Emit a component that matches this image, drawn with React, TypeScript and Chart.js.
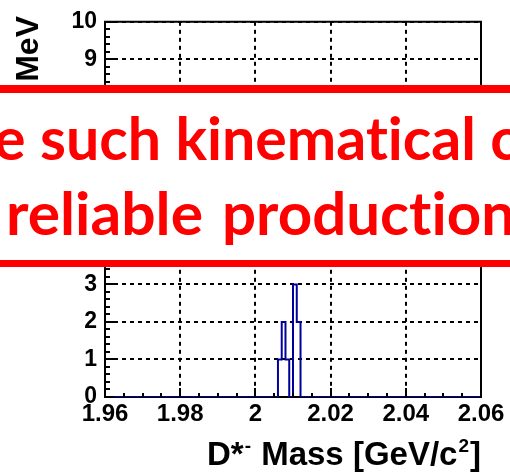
import { useEffect, useRef } from "react";
import { Chart, registerables } from "chart.js";

Chart.register(...registerables);

// D*- candidate invariant mass, 1 MeV bins between 1.96 and 2.06 GeV/c^2
const massMin = 1.96;
const massMax = 2.06;
const binLowEdges = [2.006, 2.007, 2.008, 2.009, 2.01, 2.011, 2.012];
const binCounts = [1, 2, 1, 0, 3, 2, 0];

const xTickValues = [1.96, 1.98, 2.0, 2.02, 2.04, 2.06];
const xTickLabels = ["1.96", "1.98", "2", "2.02", "2.04", "2.06"];
const yTickValues = [0, 1, 2, 3, 4, 5, 6, 7, 8, 9, 10];
const yTickLabels = ["0", "1", "2", "3", "4", "5", "6", "7", "8", "9", "10"];

const yAxisTitle = "Events / 1 MeV";
// [text, isSuperscript]
const xAxisTitleParts: [string, boolean][] = [
  ["D*", false],
  ["-", true],
  [" Mass [GeV/c", false],
  ["2", true],
  ["]", false],
];
const bannerLine1 = "e such kinematical c";
const bannerLine2Words = ["reliable", "production"];

const HIST_BLUE = "#00009a";
const BANNER_RED = "#ff0000";
const AXIS_FONT = "'Liberation Sans', Arial, Helvetica, sans-serif";
const BANNER_FONT = "Lato, 'Open Sans', sans-serif";

const X_MINOR_STEP = 0.005;
const Y_MINOR_STEP = 0.2;

// histogram outline: each point starts a bin that keeps its count up to the next edge
function stepPoints() {
  const pts = [{ x: massMin, y: 0 }];
  binLowEdges.forEach((e, i) => pts.push({ x: e, y: binCounts[i] }));
  pts.push({ x: massMax, y: 0 });
  return pts;
}

// draw text horizontally squeezed/stretched so it spans [x0, x1]
function fitText(ctx: CanvasRenderingContext2D, text: string, x0: number, x1: number, baseline: number) {
  const s = (x1 - x0) / ctx.measureText(text).width;
  ctx.save();
  ctx.translate(x0, baseline);
  ctx.scale(s, 1);
  ctx.fillText(text, 0, 0);
  ctx.restore();
}

const rootFramePlugin = {
  id: "rootFrame",
  afterDatasetsDraw(chart: any) {
    const { ctx, chartArea: a } = chart;
    const xs = chart.scales.x;
    const ys = chart.scales.y;
    ctx.save();
    ctx.setLineDash([]);
    ctx.strokeStyle = "#000";
    ctx.lineWidth = 2;
    ctx.beginPath();
    ctx.moveTo(a.left, a.bottom);
    ctx.lineTo(a.left, a.top);
    ctx.lineTo(a.right, a.top);
    ctx.lineTo(a.right, a.bottom);
    ctx.stroke();

    // inward ticks on the left axis
    const nY = Math.round((ys.max - ys.min) / Y_MINOR_STEP);
    for (let k = 0; k <= nY; k++) {
      const py = Math.round(ys.getPixelForValue(ys.min + k * Y_MINOR_STEP));
      const len = k % 5 === 0 ? 9 : 5;
      ctx.beginPath();
      ctx.moveTo(a.left, py);
      ctx.lineTo(a.left + len, py);
      ctx.stroke();
    }
    // inward ticks on the bottom axis
    const nX = Math.round((xs.max - xs.min) / X_MINOR_STEP);
    for (let k = 0; k <= nX; k++) {
      const px = Math.round(xs.getPixelForValue(xs.min + k * X_MINOR_STEP));
      const len = k % 4 === 0 ? 9 : 4;
      ctx.beginPath();
      ctx.moveTo(px, a.bottom);
      ctx.lineTo(px, a.bottom - len);
      ctx.stroke();
    }
    ctx.restore();
  },
  afterDraw(chart: any) {
    const { ctx } = chart;
    ctx.save();
    ctx.fillStyle = "#000";

    // x axis title with superscripts
    const mainFont = `bold 33px ${AXIS_FONT}`;
    const supFont = `bold 19px ${AXIS_FONT}`;
    let tx = 207;
    const base = 465;
    ctx.textAlign = "left";
    ctx.textBaseline = "alphabetic";
    for (const [t, sup] of xAxisTitleParts) {
      ctx.font = sup ? supFont : mainFont;
      ctx.fillText(t, tx + (sup ? 1 : 0), sup ? base - 13 : base);
      tx += ctx.measureText(t).width + (sup ? 2 : 0);
    }

    // y axis title, rotated, right-aligned at the top of the frame
    ctx.save();
    ctx.translate(38, 16);
    ctx.rotate(-Math.PI / 2);
    ctx.font = `bold 32px ${AXIS_FONT}`;
    ctx.textAlign = "right";
    ctx.fillText(yAxisTitle, 0, 0);
    ctx.restore();

    // banner across the middle of the figure
    const w = chart.width;
    ctx.fillStyle = "#fff";
    ctx.fillRect(-10, 89, w + 20, 174);
    ctx.strokeStyle = BANNER_RED;
    ctx.lineWidth = 8;
    ctx.beginPath();
    ctx.moveTo(-10, 89);
    ctx.lineTo(w + 10, 89);
    ctx.stroke();
    ctx.lineWidth = 7;
    ctx.beginPath();
    ctx.moveTo(-10, 263.5);
    ctx.lineTo(w + 10, 263.5);
    ctx.stroke();

    ctx.fillStyle = BANNER_RED;
    ctx.font = `bold 60px ${BANNER_FONT}`;
    ctx.textAlign = "left";
    ctx.textBaseline = "alphabetic";
    try {
      (ctx as any).textRendering = "optimizeSpeed";
    } catch (e) {
      /* older canvas implementations */
    }

    const a1 = ctx.measureText("e ").width;
    const b1 = ctx.measureText("e such kinematical").width;
    const s1 = (476 - 40) / (b1 - a1);
    ctx.save();
    ctx.translate(40 - s1 * a1, 160);
    ctx.scale(s1, 1);
    ctx.fillText(bannerLine1, 0, 0);
    ctx.restore();

    fitText(ctx, bannerLine2Words[0], 6, 203, 235);
    fitText(ctx, bannerLine2Words[1], 222, 515, 235);

    ctx.restore();
  },
};

export default function App() {
  const canvasRef = useRef<HTMLCanvasElement | null>(null);

  useEffect(() => {
    if (!canvasRef.current) return;
    const tickFont = { family: AXIS_FONT, weight: "bold" as const, size: 24 };
    const chart = new Chart(canvasRef.current, {
      type: "line",
      data: {
        datasets: [
          {
            data: stepPoints(),
            stepped: "before",
            borderColor: HIST_BLUE,
            borderWidth: 2,
            pointRadius: 0,
            fill: false,
          },
        ],
      },
      options: {
        animation: false,
        responsive: false,
        devicePixelRatio: 1,
        layout: { padding: { left: 0, right: 29, top: 15, bottom: 0 } },
        plugins: { legend: { display: false }, tooltip: { enabled: false } },
        scales: {
          x: {
            type: "linear",
            min: massMin,
            max: massMax,
            afterBuildTicks: (s: any) => {
              s.ticks = xTickValues.map((v) => ({ value: v }));
            },
            afterFit: (s: any) => {
              s.height = 75;
            },
            ticks: {
              callback: (v: any) => xTickLabels[xTickValues.indexOf(v)],
              font: tickFont,
              color: "#000",
              padding: 3,
              maxRotation: 0,
              autoSkip: false,
            },
            grid: { color: "#000", lineWidth: 2, drawTicks: false },
            border: { color: "#000", width: 2, dash: [4, 4] },
          },
          y: {
            type: "linear",
            min: 0,
            max: 10,
            afterBuildTicks: (s: any) => {
              s.ticks = yTickValues.map((v) => ({ value: v }));
            },
            afterFit: (s: any) => {
              s.width = 105;
            },
            ticks: {
              callback: (v: any) => yTickLabels[yTickValues.indexOf(v)],
              font: { ...tickFont, size: 23 },
              color: "#000",
              padding: 8,
              autoSkip: false,
            },
            grid: { color: "#000", lineWidth: 2, drawTicks: false },
            border: { color: "#000", width: 2, dash: [4, 4] },
          },
        },
      },
      plugins: [rootFramePlugin],
    });
    return () => chart.destroy();
  }, []);

  return (
    <div style={{ position: "absolute", left: 0, top: 0, width: 510, height: 472, background: "#fff" }}>
      <canvas ref={canvasRef} width={510} height={472} />
    </div>
  );
}
